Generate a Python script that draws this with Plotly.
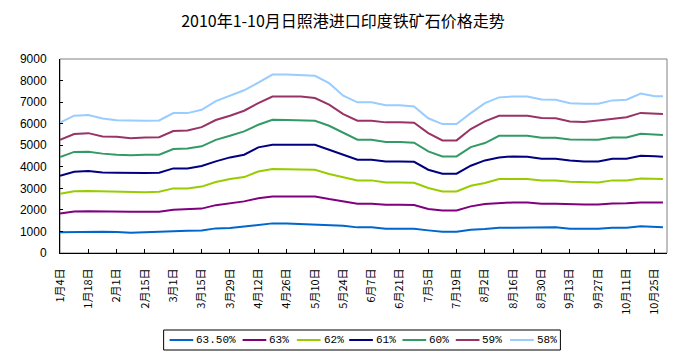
import pandas as pd
import plotly.graph_objects as go

# weekly observation dates (Mondays from Jan 4) plus the final day
dates = list(pd.date_range("2010-01-04", "2010-10-25", freq="7D").strftime("%Y-%m-%d")) + ["2010-10-29"]

tick_dates = list(pd.date_range("2010-01-04", "2010-10-25", freq="14D").strftime("%Y-%m-%d"))
tick_labels = ["1月4日", "1月18日", "2月1日", "2月15日", "3月1日", "3月15日", "3月29日",
               "4月12日", "4月26日", "5月10日", "5月24日", "6月7日", "6月21日", "7月5日",
               "7月19日", "8月2日", "8月16日", "8月30日", "9月13日", "9月27日", "10月11日", "10月25日"]

s6350 = [960, 980, 990, 988, 970, 945, 960, 985, 1034, 1034, 1040, 1142,
         1160, 1235, 1300, 1374, 1374, 1340, 1328, 1280, 1266, 1189, 1189,
         1127, 1127, 1120, 1050, 988, 988, 1080, 1110, 1173, 1173,
         1189, 1189, 1189, 1127, 1127, 1127, 1173, 1173, 1240, 1189, 1189]
s63 = [1830, 1920, 1940, 1920, 1915, 1915, 1915, 1915, 2008, 2030, 2060, 2220,
       2317, 2395, 2540, 2626, 2626, 2626, 2626, 2503, 2395, 2287, 2287,
       2240, 2240, 2230, 2039, 1977, 1977, 2163, 2271, 2317, 2348,
       2348, 2287, 2287, 2255, 2255, 2255, 2302, 2310, 2348, 2348, 2348]
s62 = [2750, 2860, 2880, 2860, 2843, 2820, 2820, 2840, 2997, 2997, 3080, 3290,
       3430, 3523, 3780, 3894, 3894, 3894, 3863, 3662, 3523, 3369, 3369,
       3276, 3276, 3260, 3013, 2858, 2858, 3121, 3245, 3430, 3430,
       3430, 3369, 3369, 3307, 3276, 3276, 3369, 3369, 3460, 3430, 3430]
s61 = [3585, 3770, 3800, 3740, 3724, 3700, 3709, 3720, 3925, 3925, 4040, 4250,
       4435, 4559, 4900, 5023, 5023, 5023, 5023, 4791, 4559, 4327, 4327,
       4250, 4250, 4230, 3863, 3678, 3678, 4049, 4296, 4435, 4482,
       4466, 4373, 4373, 4296, 4250, 4250, 4373, 4373, 4513, 4490, 4466]
s60 = [4450, 4690, 4700, 4610, 4560, 4530, 4560, 4560, 4820, 4850, 4950, 5250,
       5440, 5640, 5950, 6180, 6170, 6136, 6136, 5904, 5564, 5255, 5255,
       5150, 5150, 5120, 4714, 4482, 4482, 4915, 5100, 5440, 5440,
       5440, 5347, 5347, 5270, 5255, 5255, 5363, 5363, 5533, 5471, 5470]
s59 = [5250, 5520, 5560, 5410, 5390, 5320, 5360, 5370, 5660, 5680, 5840, 6170,
       6370, 6600, 6950, 7260, 7260, 7260, 7190, 6880, 6440, 6136, 6136,
       6060, 6060, 6040, 5560, 5224, 5224, 5750, 6105, 6368, 6368,
       6368, 6260, 6250, 6105, 6080, 6150, 6229, 6300, 6500, 6445, 6445]
s58 = [6050, 6370, 6400, 6240, 6160, 6140, 6140, 6150, 6490, 6490, 6646, 7050,
       7300, 7550, 7900, 8280, 8280, 8250, 8220, 7880, 7300, 6990, 6990,
       6850, 6850, 6800, 6250, 5980, 5980, 6490, 6950, 7220, 7260,
       7260, 7120, 7110, 6950, 6920, 6920, 7080, 7110, 7400, 7270, 7270]

series_names = ["63.50%", "63%", "62%", "61%", "60%", "59%", "58%"]
series_values = [s6350, s63, s62, s61, s60, s59, s58]
colors = ["#0066CC", "#800080", "#99CC00", "#000080", "#339966", "#993366", "#99CCFF"]

# layout geometry in screen pixels; the page body adds an 8px offset
OFF = 8
W, H = 690 - OFF, 360 - OFF
PLOT_L, PLOT_R, PLOT_T, PLOT_B = 52, 667, 59, 253          # screen px of plot area
ML, MR, MT = PLOT_L - OFF, W - (PLOT_R - OFF), PLOT_T - OFF
MB = H - (PLOT_B - OFF)
PW, PH = W - ML - MR, H - MT - MB
legend_item_px = [163, 237, 292, 345, 399, 453, 508]  # screen left edge of each swatch
legend_box_px = (157, 330, 559, 350)


def sx(px):
    return (px - PLOT_L) / PW


def sy(py):
    return (PLOT_B - py) / PH


fig = go.Figure()
for name, vals, col in zip(series_names, series_values, colors):
    fig.add_trace(go.Scatter(x=dates, y=vals, mode="lines", name=name,
                             line=dict(color=col, width=2), showlegend=False))

# plot-area frame (grey top/right)
fig.add_shape(type="rect", xref="x domain", yref="y domain", x0=0, x1=1, y0=0, y1=1,
              line=dict(color="#808080", width=1), layer="below")

# legend drawn in the Excel style
bx0, by0, bx1, by1 = legend_box_px
fig.add_shape(type="rect", xref="paper", yref="paper",
              x0=sx(bx0), x1=sx(bx1), y0=sy(by1), y1=sy(by0),
              line=dict(color="black", width=1), fillcolor="white")
ly = sy((by0 + by1) / 2)
for name, col, lx in zip(series_names, colors, legend_item_px):
    fig.add_shape(type="line", xref="paper", yref="paper",
                  x0=sx(lx), x1=sx(lx + 24), y0=ly, y1=ly,
                  line=dict(color=col, width=2))
    fig.add_annotation(xref="paper", yref="paper", x=sx(lx + 25), y=ly,
                       xanchor="left", yanchor="middle", text=name, showarrow=False,
                       font=dict(family="Liberation Mono", size=11, color="black"))

fig.update_layout(
    width=W, height=H,
    margin=dict(l=ML, r=MR, t=MT, b=MB),
    paper_bgcolor="white", plot_bgcolor="white",
    title=dict(text="2010年1-10月日照港进口印度铁矿石价格走势",
               x=(343 - OFF) / W, xanchor="center", y=1 - (21 - OFF) / H, yanchor="middle",
               font=dict(family="Noto Sans CJK SC", size=16, color="black")),
    showlegend=False,
)
fig.update_xaxes(
    type="date", range=["2010-01-04", "2010-10-31"],
    tickmode="array", tickvals=tick_dates, ticktext=tick_labels,
    tickangle=-90, ticks="inside", ticklen=4, tickcolor="black",
    showline=True, linecolor="black", linewidth=1, showgrid=False, zeroline=False,
    tickfont=dict(family="Noto Sans CJK SC", size=11, color="black"),
    ticklabelstandoff=10,
)
fig.update_yaxes(
    range=[0, 9000], tickvals=[0, 1000, 2000, 3000, 4000, 5000, 6000, 7000, 8000, 9000],
    ticks="inside", ticklen=3, tickcolor="black",
    showline=True, linecolor="black", linewidth=1, showgrid=False, zeroline=False,
    tickfont=dict(family="Liberation Sans", size=12, color="black"),
    ticklabelstandoff=10,
)

fig.write_html("out.html")
